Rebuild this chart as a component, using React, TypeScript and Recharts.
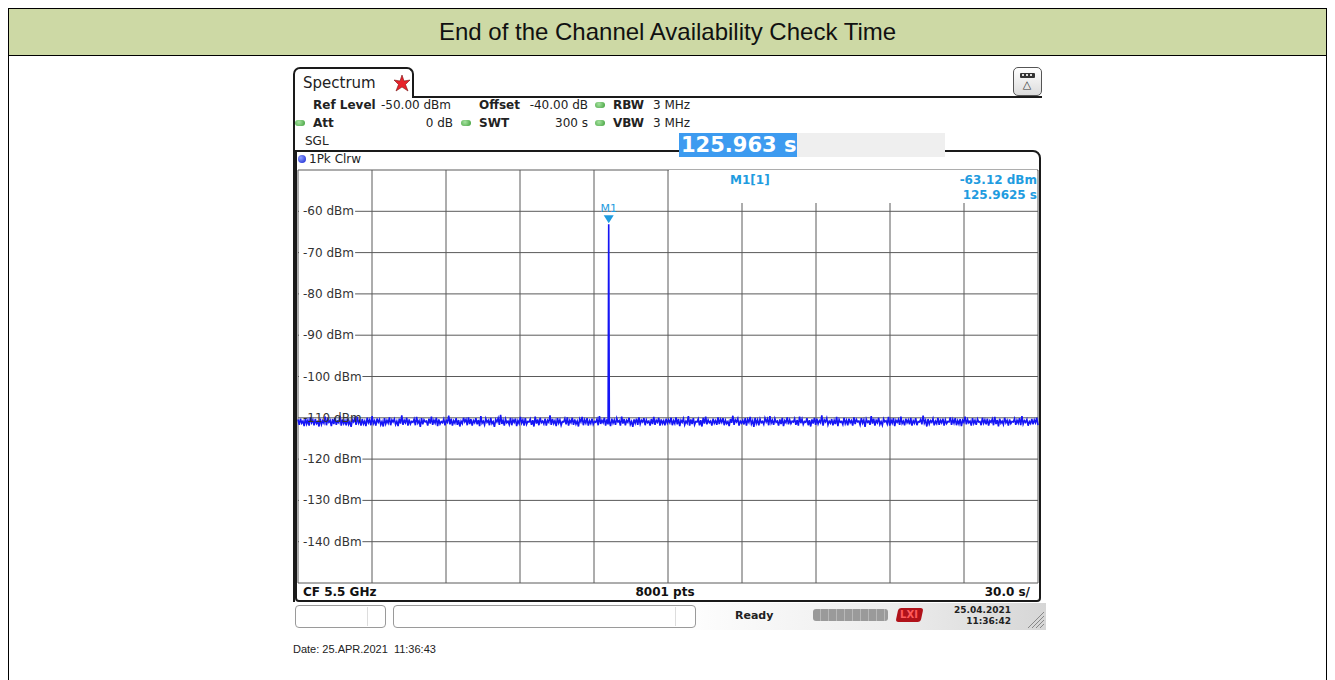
import React from "react";
import { LineChart, Line, XAxis, YAxis, CartesianGrid, ReferenceDot } from "recharts";

// sweep settings
const SWEEP_S = 300;
const xTicks = [0, 30, 60, 90, 120, 150, 180, 210, 240, 270, 300];
const yTicks = [-150, -140, -130, -120, -110, -100, -90, -80, -70, -60, -50];
const yLabels = [-140, -130, -120, -110, -100, -90, -80, -70, -60];

// marker M1
const markerTime = 125.9625;
const markerLevel = -63.12;

// trace (dBm), noise floor across the sweep
const noiseDbm = [
  -110.4,-111.7,-110.2,-111.3,-110.8,-112.0,-110.1,-111.5,-110.6,-111.9,-109.9,-111.2,-110.5,-111.8,-110.3,-111.4,-110.9,-112.1,-110.2,-111.6,
  -110.7,-111.3,-109.7,-111.8,-110.4,-111.1,-110.6,-112.0,-110.3,-111.5,-110.0,-111.7,-110.8,-111.2,-109.5,-111.9,-110.4,-111.4,-110.7,-111.8,
  -110.2,-111.6,-110.9,-112.2,-110.5,-111.0,-110.1,-111.7,-109.8,-111.3,-110.6,-111.9,-110.3,-111.5,-110.8,-112.0,-110.0,-111.2,-110.5,-111.8,
  -109.6,-111.4,-110.7,-111.9,-110.2,-111.1,-110.4,-111.7,-110.9,-112.1,-110.1,-111.5,-110.6,-111.3,-109.9,-111.8,-110.5,-111.0,-110.3,-111.6,
  -110.8,-112.0,-110.2,-111.4,-109.4,-111.7,-110.6,-111.2,-110.0,-111.9,-110.4,-111.5,-110.9,-111.1,-110.3,-111.8,-109.8,-111.3,-110.7,-112.2,
  -110.1,-111.6,-110.5,-111.0,-110.8,-111.9,-110.2,-111.4,-109.7,-111.7,-110.6,-111.3,-110.0,-112.0,-110.4,-111.5,-110.9,-111.2,-110.3,-111.8,
  -110.6,-111.1,-109.5,-111.6,-110.2,-111.9,-110.7,-111.3,-110.1,-111.7,-110.5,-112.1,-110.8,-111.4,-110.0,-111.0,-110.4,-111.8,-109.9,-111.5,
  -110.3,-111.9,-110.7,-111.2,-110.1,-111.6,-110.5,-112.0,-109.6,-111.3,-110.8,-111.7,-110.2,-111.1,-110.6,-111.8,-110.0,-111.4,-110.9,-112.2,
  -110.4,-111.0,-110.1,-111.7,-109.3,-111.5,-110.6,-111.9,-110.3,-111.2,-110.8,-111.6,-110.0,-111.8,-110.5,-111.1,-110.2,-112.0,-110.7,-111.4,
  -109.8,-111.3,-110.5,-111.9,-110.1,-111.6,-110.9,-111.0,-110.3,-111.7,-110.6,-112.1,-109.7,-111.4,-110.4,-111.8,-110.0,-111.2,-110.8,-111.5,
  -110.2,-111.9,-110.6,-111.1,-109.4,-111.7,-110.3,-111.4,-110.7,-112.0,-110.1,-111.3,-110.5,-111.8,-110.9,-111.0,-110.2,-111.6,-109.9,-111.9,
  -110.6,-111.2,-110.0,-111.7,-110.4,-111.5,-110.8,-112.1,-110.3,-111.0,-109.8,-111.8,-110.5,-111.3,-110.1,-111.9,-110.7,-111.4,-110.2,-111.6,
  -110.9,-111.1,-110.3,-111.8,-109.6,-111.5,-110.6,-111.2,-110.0,-111.9,-110.4,-111.6,-110.8,-112.0,-110.2,-111.3,-110.5,-111.7,-110.1,-111.0,
  -110.7,-111.9,-109.7,-111.4,-110.3,-111.8,-110.6,-111.1,-110.0,-111.6,-110.9,-112.2,-110.4,-111.3,-110.2,-111.7,-109.9,-111.5,-110.6,-111.0,
  -110.1,-111.8,-110.5,-111.2,-110.8,-111.9,-110.3,-111.5,-109.8,-111.7,-110.6,-111.1,-110.0,-111.9,-110.4,-111.4,-110.7,-111.8,-110.2,-111.3,
  -110.5,-111.2,-110.0,-111.8,-110.7,-111.4,-109.9,-111.6,-110.3,-112.0,-110.6,-111.1,-110.2,-111.7,-110.8,-111.3,-109.6,-111.9,-110.4,-111.5,
  -110.1,-111.7,-110.9,-111.0,-110.3,-111.8,-110.6,-112.1,-110.0,-111.4,-109.7,-111.6,-110.5,-111.2,-110.8,-111.9,-110.2,-111.3,-110.7,-111.7,
  -109.9,-111.5,-110.4,-111.1,-110.1,-111.8,-110.6,-111.4,-110.9,-112.0,-110.3,-111.2,-109.5,-111.7,-110.5,-111.0,-110.2,-111.9,-110.8,-111.3,
  -110.6,-111.6,-110.1,-111.9,-110.4,-111.1,-109.8,-111.5,-110.7,-112.2,-110.0,-111.4,-110.5,-111.8,-110.3,-111.2,-110.9,-111.6,-110.1,-111.0,
  -110.3,-111.8,-109.6,-111.3,-110.6,-111.7,-110.2,-111.1,-110.8,-111.9,-110.4,-111.5,-110.0,-112.0,-110.7,-111.2,-109.9,-111.6,-110.5,-111.4,
  -110.8,-111.0,-110.2,-111.7,-110.5,-111.9,-109.7,-111.3,-110.3,-111.6,-110.9,-111.1,-110.1,-111.8,-110.6,-112.1,-110.4,-111.4,-110.0,-111.7,
  -110.2,-111.5,-110.7,-111.2,-109.4,-111.9,-110.5,-111.0,-110.1,-111.7,-110.8,-111.3,-110.3,-111.8,-110.6,-111.5,-109.8,-112.0,-110.4,-111.1,
  -110.9,-111.6,-110.0,-111.4,-110.6,-111.8,-110.2,-111.2,-110.7,-111.9,-109.9,-111.5,-110.4,-111.0,-110.8,-111.7,-110.1,-111.3,-110.5,-112.2,
  -110.3,-111.1,-110.8,-111.7,-109.6,-111.4,-110.2,-111.9,-110.6,-111.2,-110.0,-111.6,-110.9,-111.8,-110.3,-111.0,-110.7,-111.5,-109.8,-111.9,
  -110.5,-111.3,-110.1,-112.0,-110.6,-111.1,-110.4,-111.7,-109.7,-111.4,-110.8,-111.8,-110.2,-111.2,-110.5,-111.6,-110.0,-111.9,-110.7,-111.3,
  -110.1,-111.8,-110.9,-111.0,-110.4,-111.6,-109.5,-111.3,-110.6,-112.1,-110.3,-111.5,-110.7,-111.1,-110.2,-111.8,-110.8,-111.4,-110.0,-111.7,
  -110.6,-111.2,-110.2,-111.9,-110.5,-111.4,-110.9,-111.0,-109.9,-111.7,-110.4,-111.3,-110.1,-111.8,-110.7,-111.5,-110.3,-112.0,-110.6,-111.1,
  -109.7,-111.6,-110.4,-111.2,-110.8,-111.9,-110.1,-111.4,-110.6,-111.7,-110.3,-111.0,-110.9,-111.8,-110.0,-111.3,-110.5,-111.6,-110.2,-111.9,
  -110.7,-111.1,-110.3,-111.8,-109.8,-111.5,-110.5,-112.1,-110.2,-111.3,-110.8,-111.6,-110.0,-111.2,-110.6,-111.9,-110.4,-111.4,-110.9,-111.0,
  -110.2,-111.7,-110.6,-111.3,-110.1,-111.8,-109.6,-111.5,-110.7,-111.1,-110.4,-111.9,-110.9,-111.4,-110.3,-111.6,-110.5,-111.2,-110.0,-111.8,
];

const trace = noiseDbm
  .map((v, i) => ({ t: (i * SWEEP_S) / (noiseDbm.length - 1), lvl: v }))
  .concat([{ t: markerTime, lvl: markerLevel }])
  .sort((a, b) => a.t - b.t);

const FONT = "'DejaVu Sans', sans-serif";
const ARIAL = "'Liberation Sans', Arial, sans-serif";
const BLUE = "#1f9ce0";

function Txt({ x, y, a = "start", s = 12, b = false, c = "#222", f = FONT, children }: any) {
  const lh = Math.round(s * 1.2);
  const tr = a === "end" ? "translateX(-100%)" : a === "middle" ? "translateX(-50%)" : undefined;
  return (
    <div style={{ position: "absolute", left: x, top: y - lh / 2, lineHeight: lh + "px", fontSize: s, fontWeight: b ? "bold" : "normal", color: c, fontFamily: f, whiteSpace: "pre", transform: tr }}>
      {children}
    </div>
  );
}

const Dot = ({ x, y }: { x: number; y: number }) => (
  <div style={{ position: "absolute", left: x - 5, top: y - 3, width: 10, height: 6, borderRadius: 5, background: "radial-gradient(circle at 40% 35%, #a6e3a0, #3f9e3a)" }} />
);

// the -110 label sits under the noise floor, so it gets no white backing
const YTick = (props: any) => {
  const { y, payload } = props;
  if (!yLabels.includes(payload.value)) return <g />;
  const label = `${payload.value} dBm`;
  return (
    <g>
      {payload.value !== -110 && <rect x={9} y={y - 7} width={label.length * 7.3 + 5} height={14} fill="#fff" />}
      <text x={13} y={y} dy={4} fontSize={12} fontFamily={FONT} fill="#333">{label}</text>
    </g>
  );
};

const MarkerShape = (p: any) => {
  const { cx, cy } = p;
  return (
    <g>
      <polygon points={`${cx - 5},${cy - 9} ${cx + 5},${cy - 9} ${cx},${cy - 1}`} fill={BLUE} />
      <text x={cx} y={cy - 12} textAnchor="middle" fontSize={11} fontFamily={FONT} fill={BLUE}>M1</text>
    </g>
  );
};

export default function App() {
  return (
    <div style={{ position: "absolute", left: 0, top: 0, width: 1335, height: 680, overflow: "hidden", background: "#fff" }}>
      {/* outer frame + title */}
      <div style={{ position: "absolute", left: 8, top: 8, width: 1319, height: 720, border: "1px solid #000", boxSizing: "border-box" }} />
      <div style={{ position: "absolute", left: 9, top: 9, width: 1317, height: 46, background: "#cdd9a5", borderBottom: "1px solid #000", textAlign: "center", lineHeight: "46px", fontSize: 24, fontFamily: ARIAL, color: "#111" }}>
        End of the Channel Availability Check Time
      </div>

      {/* tab */}
      <div style={{ position: "absolute", left: 293, top: 67, width: 121, height: 31, border: "2px solid #1a1a1a", borderBottom: "none", borderRadius: "7px 7px 0 0", boxSizing: "border-box", background: "#fff" }} />
      <Txt x={303} y={83} s={15}>Spectrum</Txt>
      <svg style={{ position: "absolute", left: 393, top: 74 }} width={18} height={18}>
        <polygon points="9,1 11,7 17,6 12.5,10.5 15,17 9,13 3,17 5.5,10.5 1,6 7,7" fill="#e8222a" stroke="#7a1010" strokeWidth={0.6} />
      </svg>
      <div style={{ position: "absolute", left: 412, top: 96, width: 630, height: 2, background: "#1a1a1a" }} />
      <div style={{ position: "absolute", left: 293, top: 97, width: 2, height: 505, background: "#1a1a1a" }} />

      {/* icon top right */}
      <div style={{ position: "absolute", left: 1013, top: 67, width: 29, height: 29, border: "1.5px solid #555", borderRadius: 5, boxSizing: "border-box", background: "linear-gradient(#fff, #dcdcdc)" }}>
        <div style={{ position: "absolute", left: 6, top: 5, width: 15, height: 5, background: "#333", borderRadius: 1 }}>
          <div style={{ position: "absolute", left: 2, top: 1, width: 11, height: 2, background: "repeating-linear-gradient(to right, #ddd 0 2px, #333 2px 4px)" }} />
        </div>
        <div style={{ position: "absolute", left: 0, width: 26, top: 11, textAlign: "center", fontSize: 11, lineHeight: "12px", color: "#333", fontFamily: FONT }}>△</div>
      </div>

      {/* header info */}
      <Txt x={313} y={105} b>Ref Level</Txt>
      <Txt x={381} y={105}>-50.00 dBm</Txt>
      <Txt x={479} y={105} b>Offset</Txt>
      <Txt x={588} y={105} a="end">-40.00 dB</Txt>
      <Dot x={600} y={105} />
      <Txt x={613} y={105} b>RBW</Txt>
      <Txt x={653} y={105}>3 MHz</Txt>

      <Dot x={300} y={123} />
      <Txt x={313} y={123} b>Att</Txt>
      <Txt x={453} y={123} a="end">0 dB</Txt>
      <Dot x={466} y={123} />
      <Txt x={479} y={123} b>SWT</Txt>
      <Txt x={588} y={123} a="end">300 s</Txt>
      <Dot x={600} y={123} />
      <Txt x={613} y={123} b>VBW</Txt>
      <Txt x={653} y={123}>3 MHz</Txt>

      <Txt x={305} y={141}>SGL</Txt>

      {/* inner panel */}
      <div style={{ position: "absolute", left: 295, top: 150, width: 746, height: 452, border: "2px solid #1a1a1a", borderRadius: "0 8px 4px 4px", boxSizing: "border-box" }} />

      {/* sweep time box */}
      <div style={{ position: "absolute", left: 797, top: 133, width: 148, height: 24, background: "#efefef" }} />
      <div style={{ position: "absolute", left: 679, top: 133, width: 118, height: 24, background: "#3d9bf0" }} />
      <Txt x={681} y={145} s={21} b c="#fff">125.963 s</Txt>

      <div style={{ position: "absolute", left: 298, top: 155, width: 8, height: 8, borderRadius: 4, background: "radial-gradient(circle at 35% 35%, #8fa0ff, #1020d0)" }} />
      <Txt x={309} y={159}>1Pk Clrw</Txt>

      {/* chart */}
      <div style={{ position: "absolute", left: 290, top: 160 }}>
        <LineChart width={760} height={435} data={trace} margin={{ top: 10, right: 12, bottom: 12, left: 8 }}>
          <CartesianGrid stroke="#5a5a5a" strokeWidth={1} verticalValues={xTicks} horizontalValues={yTicks} />
          <XAxis dataKey="t" type="number" domain={[0, SWEEP_S]} ticks={xTicks} hide />
          <YAxis type="number" domain={[-150, -50]} ticks={yTicks} width={70} mirror axisLine={false} tickLine={false} tick={(p: any) => <YTick {...p} />} interval={0} />
          <Line dataKey="lvl" stroke="#1515f5" strokeWidth={1.6} dot={false} isAnimationActive={false} />
          <ReferenceDot x={markerTime} y={markerLevel} r={0} shape={(p: any) => <MarkerShape {...p} />} />
        </LineChart>
      </div>

      {/* marker readout */}
      <div style={{ position: "absolute", left: 669, top: 170, width: 368, height: 33, background: "#fff" }} />
      <Txt x={730} y={180} b c={BLUE}>M1[1]</Txt>
      <Txt x={1037} y={180} a="end" b c={BLUE}>-63.12 dBm</Txt>
      <Txt x={1037} y={195} a="end" b c={BLUE}>125.9625 s</Txt>

      {/* bottom row */}
      <Txt x={303} y={592} b c="#111">CF 5.5 GHz</Txt>
      <Txt x={665} y={592} a="middle" b c="#111">8001 pts</Txt>
      <Txt x={1030} y={592} a="end" b c="#111">30.0 s/</Txt>

      {/* status bar */}
      <div style={{ position: "absolute", left: 296, top: 603, width: 750, height: 27, background: "linear-gradient(to right, #fff 50%, #ececec 80%, #d6d6d6 100%)" }} />
      <div style={{ position: "absolute", left: 295, top: 605, width: 91, height: 23, border: "1px solid #9a9a9a", borderRadius: 4, boxSizing: "border-box", background: "#fff" }} />
      <div style={{ position: "absolute", left: 367, top: 607, width: 1, height: 19, background: "#ddd" }} />
      <div style={{ position: "absolute", left: 393, top: 605, width: 303, height: 23, border: "1px solid #9a9a9a", borderRadius: 4, boxSizing: "border-box", background: "#fff" }} />
      <div style={{ position: "absolute", left: 675, top: 607, width: 1, height: 19, background: "#ddd" }} />
      <Txt x={735} y={615} s={11} b c="#222">Ready</Txt>
      <div style={{ position: "absolute", left: 813, top: 609, width: 75, height: 12, borderRadius: 3, background: "repeating-linear-gradient(to right, #9a9a9a 0 7px, #b8b8b8 7px 8px)" }} />
      <div style={{ position: "absolute", left: 897, top: 608, width: 25, height: 14, borderRadius: 3, background: "#b0121a", transform: "skewX(-12deg)" }} />
      <Txt x={909} y={615} s={10} a="middle" b c="#ff5a5a">LXI</Txt>
      <Txt x={1011} y={610} s={9} a="end" b c="#222">25.04.2021</Txt>
      <Txt x={1011} y={621} s={9} a="end" b c="#222">11:36:42</Txt>
      <svg style={{ position: "absolute", left: 1026, top: 610 }} width={18} height={20}>
        {[0, 4, 8, 12].map((o) => (
          <line key={o} x1={18} y1={2 + o} x2={2 + o} y2={18} stroke="#888" strokeWidth={1} />
        ))}
      </svg>

      <Txt x={293} y={649} s={11} f={ARIAL} c="#222">Date: 25.APR.2021  11:36:43</Txt>
    </div>
  );
}
